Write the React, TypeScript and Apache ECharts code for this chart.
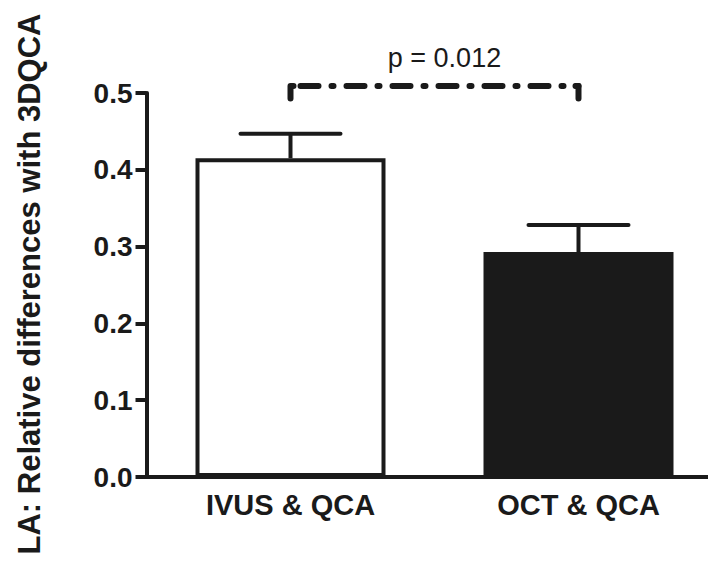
import React, { useEffect, useRef } from "react";
import * as echarts from "echarts";

const categories = ["IVUS & QCA", "OCT & QCA"];
const means = [0.415, 0.293];
const upperErrors = [0.447, 0.328];
const barColors = ["#ffffff", "#1a1a1a"];
const yTicks = [0, 0.1, 0.2, 0.3, 0.4, 0.5];
const bracketLevel = 0.509;
const bracketFoot = 0.493;
const pLabel = "p = 0.012";
const yTitle = "LA: Relative differences with 3DQCA";

export default function App() {
  const ref = useRef<HTMLDivElement>(null);
  useEffect(() => {
    if (!ref.current) return;
    const chart = echarts.init(ref.current, null, { renderer: "svg" });
    const ink = "#1a1a1a";
    const font = "Liberation Sans, Arial, sans-serif";
    chart.setOption({
      animation: false,
      backgroundColor: "#ffffff",
      grid: { left: 146.5, top: 93, bottom: 85, right: 7.5, containLabel: false },
      xAxis: {
        type: "category",
        data: categories,
        axisLine: { lineStyle: { color: ink, width: 4 } },
        axisTick: { alignWithLabel: true, length: 10, lineStyle: { color: ink, width: 4 } },
        axisLabel: {
          margin: 13,
          color: ink,
          fontSize: 29,
          fontWeight: "bold",
          fontFamily: font,
        },
      },
      yAxis: {
        type: "value",
        min: yTicks[0],
        max: yTicks[yTicks.length - 1],
        interval: 0.1,
        splitLine: { show: false },
        axisLine: { show: true, lineStyle: { color: ink, width: 4 } },
        axisTick: { show: true, length: 11, lineStyle: { color: ink, width: 4 } },
        axisLabel: {
          margin: 14,
          color: ink,
          fontSize: 28,
          fontWeight: "bold",
          fontFamily: font,
          formatter: (v: number) => v.toFixed(1),
        },
      },
      series: [
        {
          type: "bar",
          barWidth: 190,
          data: means.map((v, i) => ({
            value: v,
            itemStyle: { color: barColors[i], borderColor: ink, borderWidth: 4 },
          })),
          z: 2,
        },
        {
          type: "custom",
          z: 3,
          data: means.map((v, i) => [i, v, upperErrors[i]]),
          renderItem: (params: any, api: any) => {
            const i = api.value(0);
            const lo = api.coord([i, api.value(1)]);
            const hi = api.coord([i, api.value(2)]);
            const half = 50;
            return {
              type: "group",
              children: [
                {
                  type: "line",
                  shape: { x1: lo[0], y1: lo[1], x2: hi[0], y2: hi[1] },
                  style: { stroke: ink, lineWidth: 4 },
                },
                {
                  type: "line",
                  shape: { x1: hi[0] - half, y1: hi[1], x2: hi[0] + half, y2: hi[1] },
                  style: { stroke: ink, lineWidth: 4, lineCap: "round" },
                },
              ],
            };
          },
        },
        {
          type: "custom",
          z: 4,
          clip: false,
          data: [[0, 1, bracketLevel, bracketFoot]],
          renderItem: (params: any, api: any) => {
            const a = api.value(0);
            const b = api.value(1);
            const lvl = api.value(2);
            const foot = api.value(3);
            const p1 = api.coord([a, foot]);
            const p2 = api.coord([a, lvl]);
            const p3 = api.coord([b, lvl]);
            const p4 = api.coord([b, foot]);
            const solid = { stroke: ink, lineWidth: 6, fill: "none", lineCap: "round", lineJoin: "round" };
            return {
              type: "group",
              children: [
                { type: "polyline", shape: { points: [p1, p2, [p2[0] + 3, p2[1]]] }, style: solid },
                { type: "polyline", shape: { points: [[p3[0] - 3, p3[1]], p3, p4] }, style: solid },
                {
                  type: "line",
                  shape: { x1: p2[0], y1: p2[1], x2: p3[0], y2: p3[1] },
                  style: {
                    stroke: ink,
                    lineWidth: 6,
                    lineDash: [18, 13, 2, 13],
                    lineDashOffset: 36,
                    lineCap: "round",
                  },
                },
                {
                  type: "text",
                  style: {
                    text: pLabel,
                    x: (p2[0] + p3[0]) / 2 + 10,
                    y: p2[1] - 15,
                    textAlign: "center",
                    textVerticalAlign: "bottom",
                    fontSize: 27,
                    fontFamily: font,
                    fill: ink,
                  },
                },
              ],
            };
          },
        },
      ],
      graphic: [
        {
          type: "text",
          x: 29,
          y: 284,
          rotation: Math.PI / 2,
          style: {
            text: yTitle,
            textAlign: "center",
            textVerticalAlign: "middle",
            fontSize: 31,
            fontWeight: "bold",
            fontFamily: font,
            fill: ink,
          },
        },
      ],
    });
    return () => chart.dispose();
  }, []);
  return (
    <div style={{ width: 716, height: 562, margin: -8, overflow: "hidden" }}>
      <div ref={ref} style={{ width: 730, height: 562 }} />
    </div>
  );
}
